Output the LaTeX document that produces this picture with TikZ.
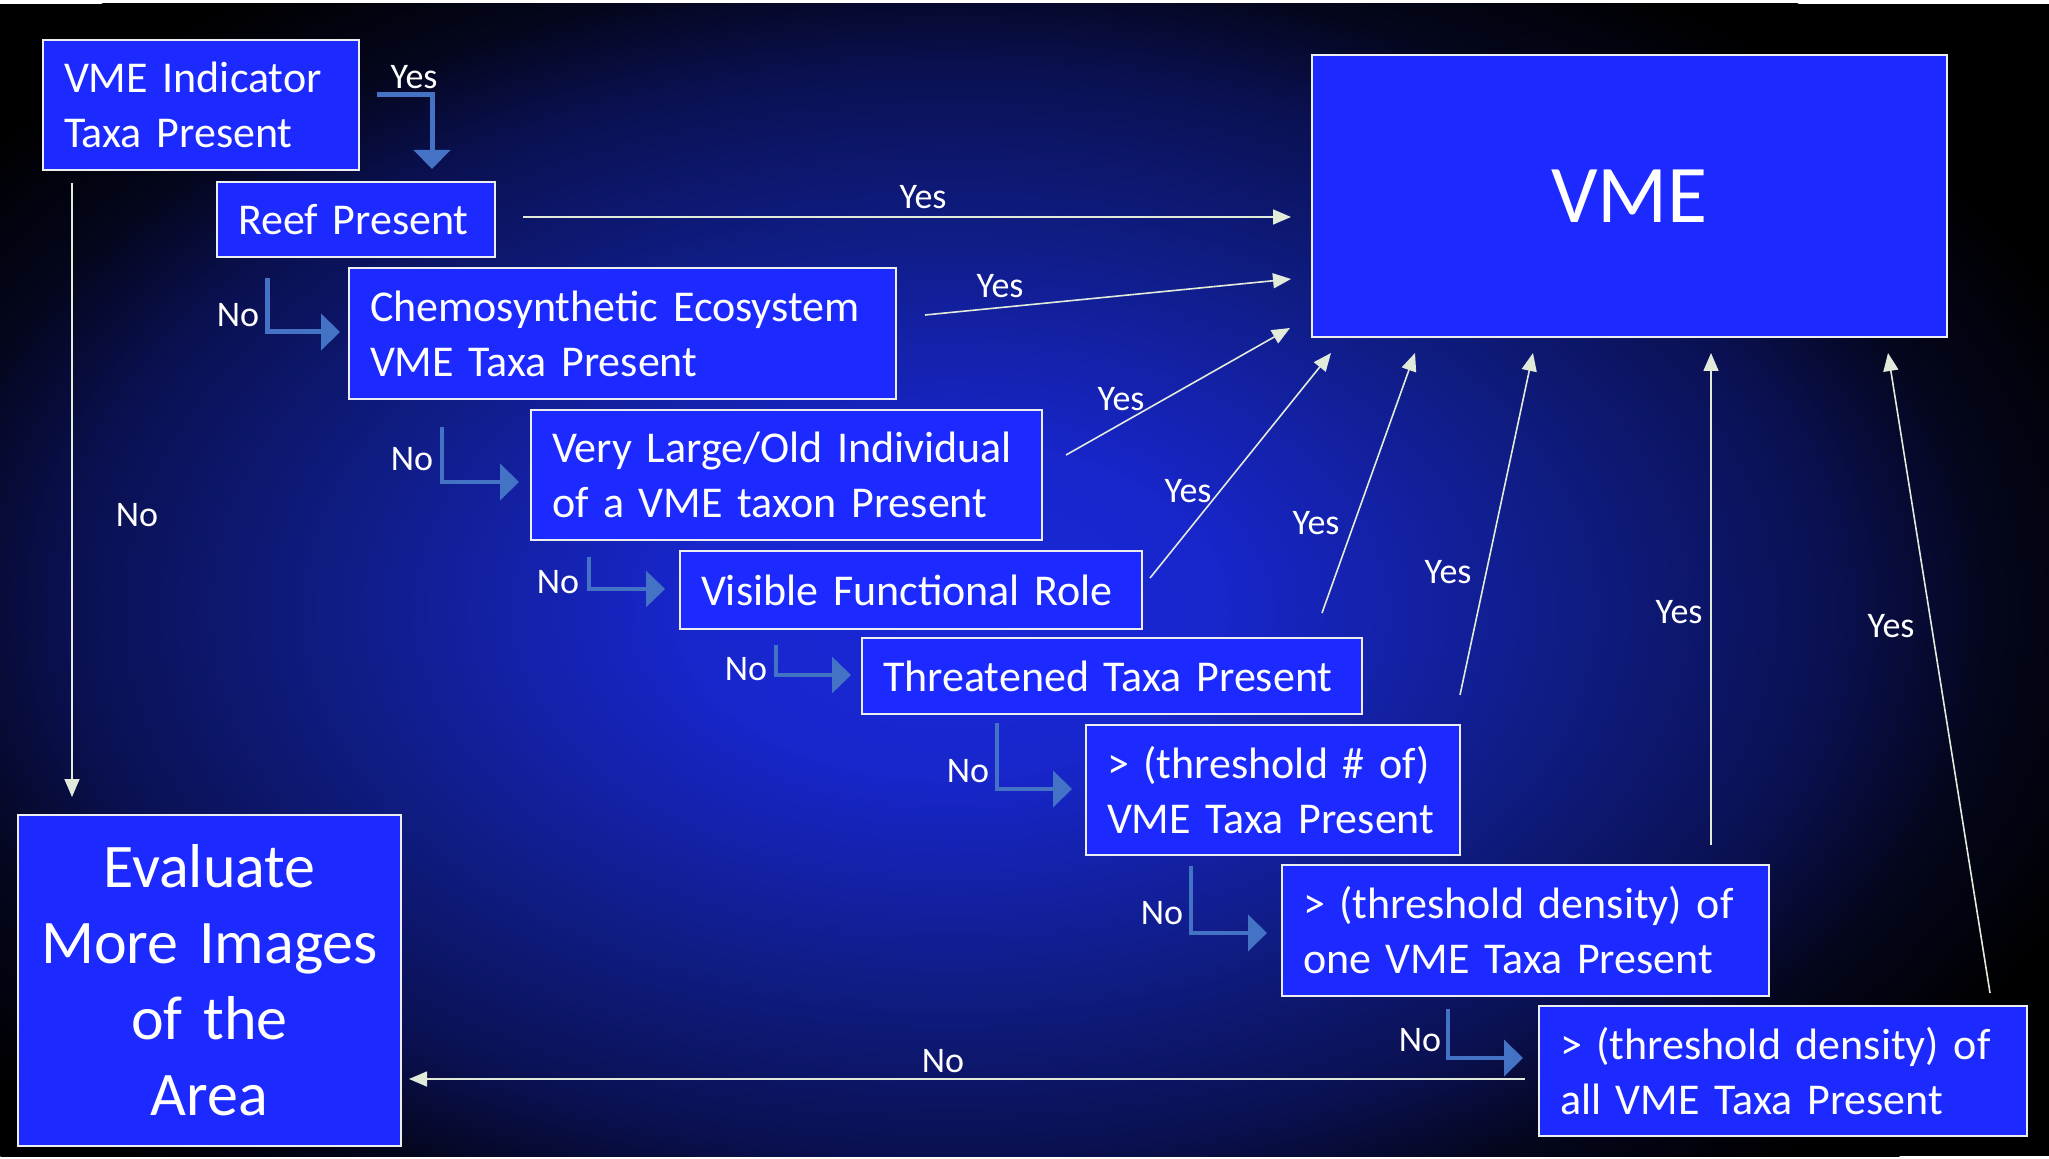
\documentclass[tikz,border=0pt]{standalone}
\usepackage{fontspec}
\setmainfont{Carlito}
\usetikzlibrary{arrows.meta}
\definecolor{boxfill}{RGB}{28,42,255}
\definecolor{boxline}{RGB}{236,238,240}
\definecolor{elbowc}{RGB}{68,114,196}
\definecolor{thinc}{RGB}{226,235,218}
\definecolor{bgA}{RGB}{26,40,215}
\definecolor{bgB}{RGB}{24,38,205}
\definecolor{bgC}{RGB}{15,28,130}
\definecolor{bgD}{RGB}{10,16,80}
\definecolor{bgE}{RGB}{4,6,28}
\pgfdeclareradialshading{glow}{\pgfpoint{0bp}{0bp}}{color(0bp)=(bgA); color(5bp)=(bgB); color(12bp)=(bgC); color(17bp)=(bgD); color(20bp)=(bgE); color(23.5bp)=(black); color(50bp)=(black)}
\tikzset{
  box/.style={draw=boxline, line width=1pt, fill=boxfill, text=white,
    font=\fontsize{22}{27.5}\selectfont, align=left, inner xsep=10.5pt, inner ysep=0pt, anchor=center},
  bigbox/.style={box, align=center},
  lbl/.style={text=white, font=\fontsize{18}{22}\selectfont, inner sep=0pt, anchor=center},
  elbow/.style={draw=elbowc, line width=2.1pt, line join=miter, -{Triangle[width=18pt,length=9.5pt]}},
  thinarrow/.style={draw=thinc, line width=0.8pt, -{Triangle[width=7.5pt,length=9pt]}}
}
\begin{document}
\begin{tikzpicture}[x=0.5pt,y=-0.5pt]
% background
\fill[white] (0,0) rectangle (2049,1159);
\fill[black] (0,4) rectangle (2049,1156);
\begin{scope}
\clip (0,4) rectangle (2049,1156);
\shade[shading=glow] (950,610) ellipse [x radius=650pt, y radius=400pt];
\end{scope}
\useasboundingbox (0,0) rectangle (2049,1159);

% boxes
\node[box, text width=137pt, minimum height=65pt] (ind) at (201,105) {VME Indicator\\Taxa Present};
\node[box, text width=118pt, minimum height=37.5pt] (reef) at (356,219.5) {Reef Present};
\node[box, text width=252.5pt, minimum height=65.5pt] (chemo) at (622.5,333.5) {Chemosynthetic Ecosystem\\VME Taxa Present};
\node[box, text width=234.5pt, minimum height=65pt] (large) at (786.5,475) {Very Large/Old Individual\\of a VME taxon Present};
\node[box, text width=210pt, minimum height=39pt] (visible) at (911,590) {Visible Functional Role};
\node[box, text width=229pt, minimum height=38pt] (threat) at (1112,676) {Threatened Taxa Present};
\node[box, text width=166pt, minimum height=65pt] (thrnum) at (1273,790) {> (threshold \# of)\\VME Taxa Present};
\node[box, text width=222.5pt, minimum height=65.5pt] (onevme) at (1525.5,930.5) {> (threshold density) of\\one VME Taxa Present};
\node[box, text width=223pt, minimum height=65pt] (allvme) at (1783,1071) {> (threshold density) of\\all VME Taxa Present};
\node[bigbox, font=\fontsize{41}{50}\selectfont, text width=296.5pt, minimum height=141pt] (vme) at (1629.5,196) {VME};
\node[bigbox, font=\fontsize{31}{38}\selectfont, inner xsep=4pt, text width=183.5pt, minimum height=165.5pt] (eval) at (209.5,980.5) {Evaluate\\More Images\\of the\\Area};

% elbow arrows
\coordinate (e1s) at (377,95);   \coordinate (e1t) at (432,169);
\coordinate (e2s) at (267,278);  \coordinate (e2t) at (340,332);
\coordinate (e3s) at (442,427);  \coordinate (e3t) at (519,482);
\coordinate (e4s) at (589,557);  \coordinate (e4t) at (665,589);
\coordinate (e5s) at (776,645);  \coordinate (e5t) at (851,675);
\coordinate (e6s) at (997,723);  \coordinate (e6t) at (1072,789);
\coordinate (e7s) at (1191,866); \coordinate (e7t) at (1267,933);
\coordinate (e8s) at (1448,1009);\coordinate (e8t) at (1523,1058);
\draw[elbow, line width=2.5pt] (e1s) -| (e1t);
\draw[elbow, line width=2.5pt] (e2s) |- (e2t);
\draw[elbow] (e3s) |- (e3t);
\draw[elbow, line width=1.6pt] (e4s) |- (e4t);
\draw[elbow, line width=1.6pt] (e5s) |- (e5t);
\draw[elbow] (e6s) |- (e6t);
\draw[elbow] (e7s) |- (e7t);
\draw[elbow] (e8s) |- (e8t);

% thin arrows
\coordinate (a1s) at (72,183);    \coordinate (a1t) at (72,797);
\coordinate (a2s) at (523,217);   \coordinate (a2t) at (1291,217);
\coordinate (a3s) at (925,315);   \coordinate (a3t) at (1291,279);
\coordinate (a4s) at (1066,455);  \coordinate (a4t) at (1290,328);
\coordinate (a5s) at (1150,578);  \coordinate (a5t) at (1331,353);
\coordinate (a6s) at (1322,613);  \coordinate (a6t) at (1415,353);
\coordinate (a7s) at (1460,695);  \coordinate (a7t) at (1533,353);
\coordinate (a8s) at (1711,845);  \coordinate (a8t) at (1711,353);
\coordinate (a9s) at (1990,993);  \coordinate (a9t) at (1888,353);
\coordinate (a10s) at (1525,1079);\coordinate (a10t) at (409,1079);
\foreach \i in {1,...,10} {\draw[thinarrow] (a\i s) -- (a\i t);}

% labels
\node[lbl] (y1) at (414,77) {Yes};
\node[lbl] (n2) at (238,315) {No};
\node[lbl] (n3) at (412,459) {No};
\node[lbl] (n4) at (558,582) {No};
\node[lbl] (n5) at (746,669) {No};
\node[lbl] (n6) at (968,771) {No};
\node[lbl] (n7) at (1162,913) {No};
\node[lbl] (n8) at (1420,1040) {No};
\node[lbl] (nl) at (137,515) {No};
\node[lbl] (yr) at (923,197) {Yes};
\node[lbl] (yc) at (1000,286) {Yes};
\node[lbl] (yl) at (1121,399) {Yes};
\node[lbl] (yv) at (1188,491) {Yes};
\node[lbl] (yt) at (1316,523) {Yes};
\node[lbl] (yn) at (1448,572) {Yes};
\node[lbl] (yo) at (1679,612) {Yes};
\node[lbl] (ya) at (1891,626) {Yes};
\node[lbl] (nb) at (943,1061) {No};
\end{tikzpicture}
\end{document}
